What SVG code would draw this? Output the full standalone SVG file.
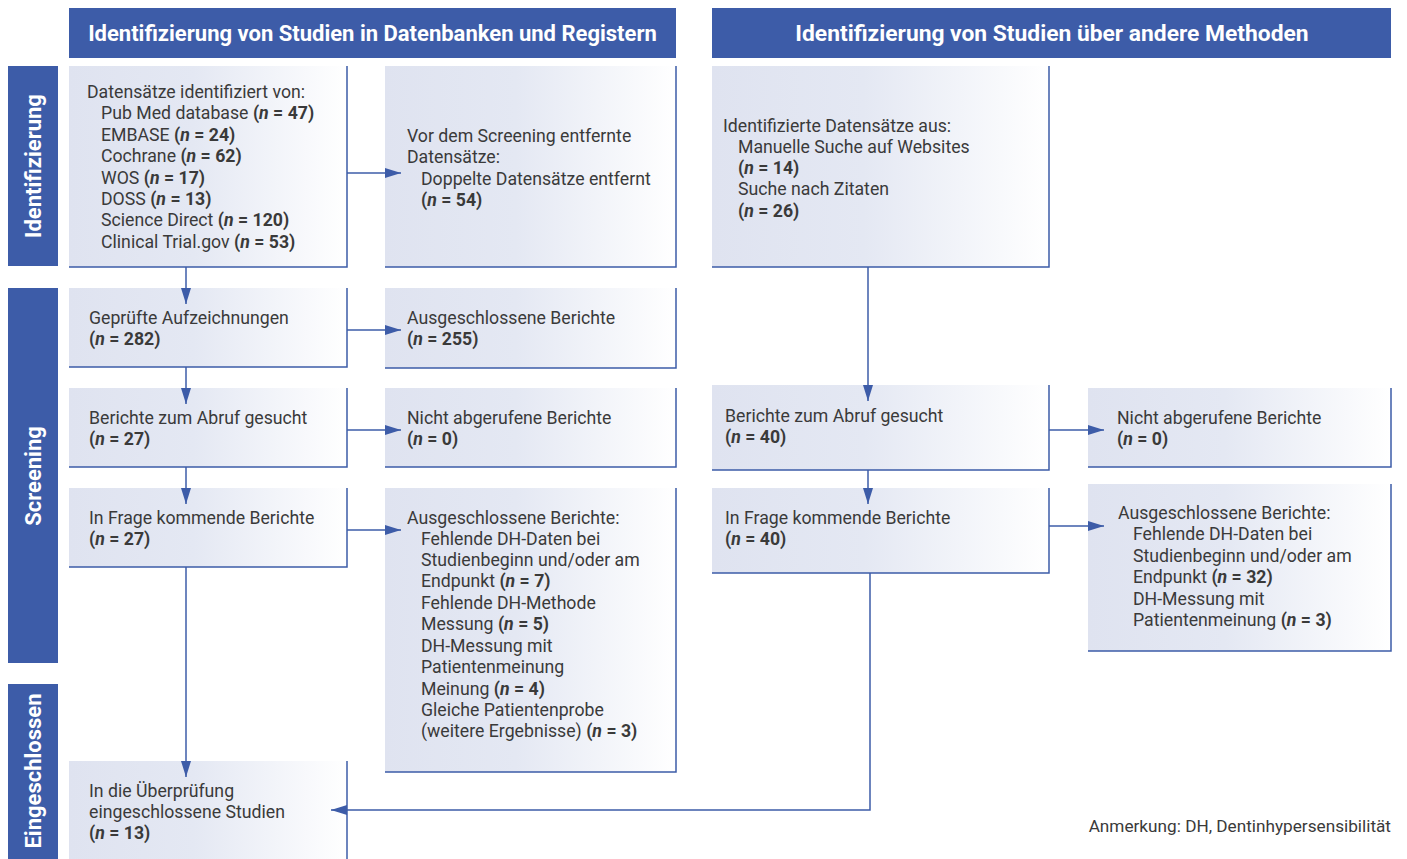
<svg xmlns="http://www.w3.org/2000/svg" width="1407" height="859" viewBox="0 0 1407 859">
<defs>
<linearGradient id="g" x1="0" y1="0" x2="1" y2="0">
<stop offset="0" stop-color="#dfe3f0"/>
<stop offset="0.45" stop-color="#e4e8f3"/>
<stop offset="1" stop-color="#ffffff"/>
</linearGradient>
<marker id="ah" viewBox="0 0 16 10" refX="16" refY="5" markerWidth="16" markerHeight="10" markerUnits="userSpaceOnUse" orient="auto">
<path d="M0,0 L16,5 L0,10 Z" fill="#3d5ca8"/>
</marker>
<style>
.hdr{fill:#3d5ca8}
.ht{font-family:Roboto,"Liberation Sans",sans-serif;font-size:22px;font-weight:bold;fill:#fff;text-anchor:middle}
.st{font-family:Roboto,"Liberation Sans",sans-serif;font-size:22px;font-weight:bold;fill:#fff;text-anchor:middle}
.bx{fill:url(#g)}
.bd{fill:none;stroke:#3d5ca8;stroke-width:1.5}
.t{font-family:Roboto,"Liberation Sans",sans-serif;font-size:17.7px;fill:#3a3a3a}
.b{font-weight:bold}
.c{fill:none;stroke:#3d5ca8;stroke-width:1.5}
</style>
</defs>
<rect width="1407" height="859" fill="#fff"/>

<g id="header-left"><rect class="hdr" x="69" y="8" width="607" height="50"/><text class="ht" x="372.5" y="41">Identifizierung von Studien in Datenbanken und Registern</text></g>
<g id="header-right"><rect class="hdr" x="712" y="8" width="679" height="50"/><text class="ht" x="1052" y="41" style="font-size:22.8px">Identifizierung von Studien über andere Methoden</text></g>

<g id="side-identifizierung"><rect class="hdr" x="8" y="66" width="50" height="200"/><text class="st" transform="translate(41,166) rotate(-90)">Identifizierung</text></g>
<g id="side-screening"><rect class="hdr" x="8" y="288" width="50" height="375"/><text class="st" transform="translate(41,476) rotate(-90)">Screening</text></g>
<g id="side-eingeschlossen"><rect class="hdr" x="8" y="684" width="50" height="175"/><text class="st" transform="translate(41,771) rotate(-90)">Eingeschlossen</text></g>

<g id="box-db">
<rect class="bx" x="69" y="66" width="278" height="201"/><path class="bd" d="M347,66 V267 H69"/>
<text class="t" x="87" y="98">Datensätze identifiziert von:</text>
<text class="t" x="101" y="119">Pub Med database <tspan class="b">(<tspan font-style="italic">n</tspan> = 47)</tspan></text>
<text class="t" x="101" y="141">EMBASE <tspan class="b">(<tspan font-style="italic">n</tspan> = 24)</tspan></text>
<text class="t" x="101" y="162">Cochrane <tspan class="b">(<tspan font-style="italic">n</tspan> = 62)</tspan></text>
<text class="t" x="101" y="184">WOS <tspan class="b">(<tspan font-style="italic">n</tspan> = 17)</tspan></text>
<text class="t" x="101" y="205">DOSS <tspan class="b">(<tspan font-style="italic">n</tspan> = 13)</tspan></text>
<text class="t" x="101" y="226">Science Direct <tspan class="b">(<tspan font-style="italic">n</tspan> = 120)</tspan></text>
<text class="t" x="101" y="248">Clinical Trial.gov <tspan class="b">(<tspan font-style="italic">n</tspan> = 53)</tspan></text>
</g>

<g id="box-removed">
<rect class="bx" x="385" y="66" width="291" height="201"/><path class="bd" d="M676,66 V267 H385"/>
<text class="t" x="407" y="142">Vor dem Screening entfernte</text>
<text class="t" x="407" y="163">Datensätze:</text>
<text class="t" x="421" y="185">Doppelte Datensätze entfernt</text>
<text class="t b" x="421" y="206">(<tspan font-style="italic">n</tspan> = 54)</text>
</g>

<g id="box-other">
<rect class="bx" x="712" y="66" width="337" height="201"/><path class="bd" d="M1049,66 V267 H712"/>
<text class="t" x="723" y="132">Identifizierte Datensätze aus:</text>
<text class="t" x="738" y="153">Manuelle Suche auf Websites</text>
<text class="t b" x="738" y="174">(<tspan font-style="italic">n</tspan> = 14)</text>
<text class="t" x="738" y="195">Suche nach Zitaten</text>
<text class="t b" x="738" y="217">(<tspan font-style="italic">n</tspan> = 26)</text>
</g>

<g id="box-screened">
<rect class="bx" x="69" y="288" width="278" height="79"/><path class="bd" d="M347,288 V367 H69"/>
<text class="t" x="89" y="324">Geprüfte Aufzeichnungen</text>
<text class="t b" x="89" y="345">(<tspan font-style="italic">n</tspan> = 282)</text>
</g>

<g id="box-excluded1">
<rect class="bx" x="385" y="288" width="291" height="80"/><path class="bd" d="M676,288 V368 H385"/>
<text class="t" x="407" y="324">Ausgeschlossene Berichte</text>
<text class="t b" x="407" y="345">(<tspan font-style="italic">n</tspan> = 255)</text>
</g>

<g id="box-sought-left">
<rect class="bx" x="69" y="388" width="278" height="79"/><path class="bd" d="M347,388 V467 H69"/>
<text class="t" x="89" y="424">Berichte zum Abruf gesucht</text>
<text class="t b" x="89" y="445">(<tspan font-style="italic">n</tspan> = 27)</text>
</g>

<g id="box-notretrieved-left">
<rect class="bx" x="385" y="388" width="291" height="79"/><path class="bd" d="M676,388 V467 H385"/>
<text class="t" x="407" y="424">Nicht abgerufene Berichte</text>
<text class="t b" x="407" y="445">(<tspan font-style="italic">n</tspan> = 0)</text>
</g>

<g id="box-eligible-left">
<rect class="bx" x="69" y="488" width="278" height="79"/><path class="bd" d="M347,488 V567 H69"/>
<text class="t" x="89" y="524">In Frage kommende Berichte</text>
<text class="t b" x="89" y="545">(<tspan font-style="italic">n</tspan> = 27)</text>
</g>

<g id="box-excluded-left">
<rect class="bx" x="385" y="488" width="291" height="284"/><path class="bd" d="M676,488 V772 H385"/>
<text class="t" x="407" y="524">Ausgeschlossene Berichte:</text>
<text class="t" x="421" y="545">Fehlende DH-Daten bei</text>
<text class="t" x="421" y="566">Studienbeginn und/oder am</text>
<text class="t" x="421" y="587">Endpunkt <tspan class="b">(<tspan font-style="italic">n</tspan> = 7)</tspan></text>
<text class="t" x="421" y="609">Fehlende DH-Methode</text>
<text class="t" x="421" y="630">Messung <tspan class="b">(<tspan font-style="italic">n</tspan> = 5)</tspan></text>
<text class="t" x="421" y="652">DH-Messung mit</text>
<text class="t" x="421" y="673">Patientenmeinung</text>
<text class="t" x="421" y="695">Meinung <tspan class="b">(<tspan font-style="italic">n</tspan> = 4)</tspan></text>
<text class="t" x="421" y="716">Gleiche Patientenprobe</text>
<text class="t" x="421" y="737">(weitere Ergebnisse) <tspan class="b">(<tspan font-style="italic">n</tspan> = 3)</tspan></text>
</g>

<g id="box-sought-right">
<rect class="bx" x="712" y="385" width="337" height="85"/><path class="bd" d="M1049,385 V470 H712"/>
<text class="t" x="725" y="422">Berichte zum Abruf gesucht</text>
<text class="t b" x="725" y="443">(<tspan font-style="italic">n</tspan> = 40)</text>
</g>

<g id="box-notretrieved-right">
<rect class="bx" x="1088" y="388" width="303" height="79"/><path class="bd" d="M1391,388 V467 H1088"/>
<text class="t" x="1117" y="424">Nicht abgerufene Berichte</text>
<text class="t b" x="1117" y="445">(<tspan font-style="italic">n</tspan> = 0)</text>
</g>

<g id="box-eligible-right">
<rect class="bx" x="712" y="488" width="337" height="85"/><path class="bd" d="M1049,488 V573 H712"/>
<text class="t" x="725" y="524">In Frage kommende Berichte</text>
<text class="t b" x="725" y="545">(<tspan font-style="italic">n</tspan> = 40)</text>
</g>

<g id="box-excluded-right">
<rect class="bx" x="1088" y="484" width="303" height="167"/><path class="bd" d="M1391,484 V651 H1088"/>
<text class="t" x="1118" y="519">Ausgeschlossene Berichte:</text>
<text class="t" x="1133" y="540">Fehlende DH-Daten bei</text>
<text class="t" x="1133" y="562">Studienbeginn und/oder am</text>
<text class="t" x="1133" y="583">Endpunkt <tspan class="b">(<tspan font-style="italic">n</tspan> = 32)</tspan></text>
<text class="t" x="1133" y="605">DH-Messung mit</text>
<text class="t" x="1133" y="626">Patientenmeinung <tspan class="b">(<tspan font-style="italic">n</tspan> = 3)</tspan></text>
</g>

<g id="box-included">
<rect class="bx" x="69" y="761" width="278" height="98"/><path class="bd" d="M347,761 V859"/>
<text class="t" x="89" y="797">In die Überprüfung</text>
<text class="t" x="89" y="818">eingeschlossene Studien</text>
<text class="t b" x="89" y="839">(<tspan font-style="italic">n</tspan> = 13)</text>
</g>

<g id="connectors">
<path class="c" d="M186,267 V304" marker-end="url(#ah)"/>
<path class="c" d="M347,173 H401" marker-end="url(#ah)"/>
<path class="c" d="M347,330 H401" marker-end="url(#ah)"/>
<path class="c" d="M186,367 V404" marker-end="url(#ah)"/>
<path class="c" d="M347,430 H401" marker-end="url(#ah)"/>
<path class="c" d="M186,467 V504" marker-end="url(#ah)"/>
<path class="c" d="M347,530 H401" marker-end="url(#ah)"/>
<path class="c" d="M186,567 V777" marker-end="url(#ah)"/>
<path class="c" d="M868,267 V401" marker-end="url(#ah)"/>
<path class="c" d="M1049,430 H1104" marker-end="url(#ah)"/>
<path class="c" d="M868,470 V504" marker-end="url(#ah)"/>
<path class="c" d="M1049,526 H1104" marker-end="url(#ah)"/>
<path class="c" d="M870,573 V810 H331" marker-end="url(#ah)"/>
</g>

<text class="t" x="1391" y="832" text-anchor="end" style="font-size:17.2px">Anmerkung: DH, Dentinhypersensibilität</text>
</svg>
